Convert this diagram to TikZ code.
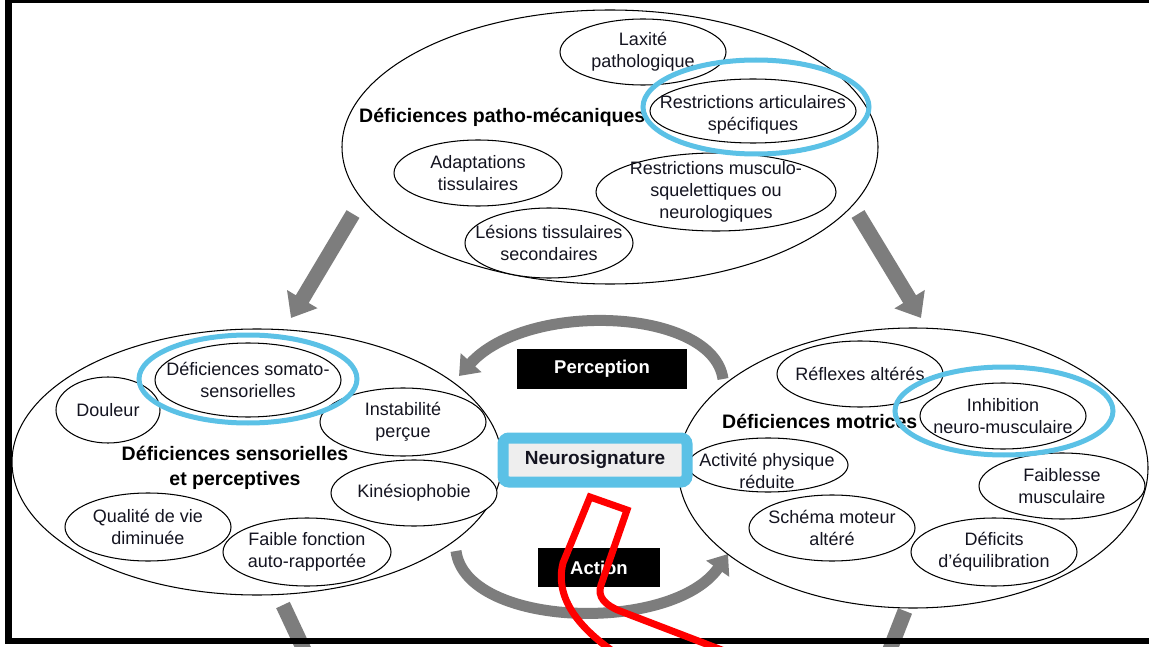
\documentclass[tikz,border=0pt]{standalone}
\usepackage{fontspec}
\setmainfont{Liberation Sans}
\usetikzlibrary{arrows.meta}
\definecolor{ringblue}{RGB}{91,193,230}
\definecolor{arrgray}{RGB}{125,125,125}
\definecolor{txtc}{RGB}{20,20,32}
\definecolor{neurofill}{RGB}{238,238,238}
\newcommand\mybub[6]{%
  \fill[white] (#2,#3) ellipse [x radius=#4pt, y radius=#5pt];
  \draw[bubline] (#2,#3) ellipse [x radius=#4pt, y radius=#5pt];
  \node[bubtext] (#1) at (#2,#3) {#6};
}
\newcommand\bigell[4]{%
  \fill[white] (#1,#2) ellipse [x radius=#3pt, y radius=#4pt];
  \draw[bubline] (#1,#2) ellipse [x radius=#3pt, y radius=#4pt];
}
\newcommand\myring[4]{%
  \draw[ringstyle] (#1,#2) ellipse [x radius=#3pt, y radius=#4pt];
}
\begin{document}
\begin{tikzpicture}[x=1pt,y=-1pt,
  bubline/.style={draw=black, line width=1.05pt},
  bubtext/.style={align=center, font=\fontsize{18}{22}\selectfont, text=txtc, inner sep=0pt},
  titletext/.style={align=center, font=\bfseries\fontsize{19.5}{25}\selectfont, text=black, inner sep=0pt},
  ringstyle/.style={draw=ringblue, line width=5pt},
  blackbox/.style={fill=black, text=white, font=\bfseries\fontsize{18.5}{22}\selectfont, inner sep=0pt},
  garrow/.style={draw=arrgray, line width=15pt, -{Triangle[width=34pt,length=22pt]}},
  gshaft/.style={draw=arrgray, line width=15pt},
  carrow/.style={draw=arrgray, line width=11pt, -{Triangle[width=27pt,length=18pt]}},
  redline/.style={draw=red, line width=7pt, line join=miter}
]
\useasboundingbox (0,0) rectangle (1149,647);
\clip (0,0) rectangle (1149,647);
\fill[white] (0,0) rectangle (1149,647);

% straight gray arrows
\coordinate (tlA) at (353,214);
\coordinate (tlB) at (291,318);
\coordinate (trA) at (858,214);
\coordinate (trB) at (921,318);
\coordinate (blA) at (283,605);
\coordinate (blB) at (305,652);
\coordinate (brA) at (905,611);
\coordinate (brB) at (889,652);
\draw[garrow] (tlA) -- (tlB);
\draw[garrow] (trA) -- (trB);
\draw[gshaft] (blA) -- (blB);
\draw[gshaft] (brA) -- (brB);

% curved arrows
\coordinate (pA) at (723,379);
\coordinate (pB) at (459,376);
\coordinate (aA) at (456,551);
\coordinate (aB) at (728,554);
\draw[carrow] (pA) .. controls (713,308) and (528,300) .. (pB);
\draw[carrow] (aA) .. controls (466,628) and (672,634) .. (aB);

% top group
\bigell{610}{147}{268}{137}
\node[titletext, anchor=west] (ttop) at (359,117) {Déficiences patho-mécaniques};
\mybub{lax}{643}{52}{83}{33}{Laxité\\pathologique}
\fill[white] (753,111) ellipse [x radius=103pt, y radius=32pt];
\draw[bubline] (753,111) ellipse [x radius=103pt, y radius=32pt];
\node[bubtext] (rart) at (753,115) {Restrictions articulaires\\spécifiques};
\mybub{adap}{478}{173}{84}{33}{Adaptations\\tissulaires}
\mybub{rmus}{716}{192}{120}{39}{Restrictions musculo-\\squelettiques ou\\neurologiques}
\mybub{les}{549}{243}{84}{35}{Lésions tissulaires\\secondaires}
\myring{756}{107}{113}{47}

% left group
\bigell{257}{462}{245}{133}
\node[titletext] (tleft) at (235,468) {Déficiences sensorielles\\et perceptives};
\mybub{doul}{108}{410}{52}{33}{Douleur}
\mybub{soma}{248}{380}{93}{37}{Déficiences somato-\\sensorielles}
\mybub{inst}{403}{422}{83}{34}{Instabilité\\perçue}
\mybub{kin}{414}{493}{83}{33}{Kinésiophobie}
\mybub{qual}{148}{527}{83}{34}{Qualité de vie\\diminuée}
\mybub{faibf}{307}{552}{84}{34}{Faible fonction\\auto-rapportée}
\myring{248}{379}{109}{44}

% right group
\bigell{913}{468}{235}{140}
\node[titletext, anchor=west] (tright) at (722,421) {Déficiences motrices};
\mybub{refl}{860}{374}{83}{33}{Réflexes altérés}
\mybub{inhib}{1003}{416}{83}{33}{Inhibition\\neuro-musculaire}
\fill[white] (768,465) ellipse [x radius=80pt, y radius=27pt];
\draw[bubline] (768,465) ellipse [x radius=80pt, y radius=27pt];
\node[bubtext] (act) at (767,471) {Activité physique\\réduite};
\mybub{faib}{1062}{486}{83}{33}{Faiblesse\\musculaire}
\mybub{sch}{832}{528}{83}{33}{Schéma moteur\\altéré}
\mybub{def}{994}{552}{83}{34}{Déficits\\d’équilibration}
\myring{1004}{411}{109}{44}

% centre
\node[draw=ringblue, line width=11pt, fill=neurofill, rounded corners=6pt,
      minimum width=184pt, minimum height=44pt, inner sep=0pt,
      font=\bfseries\fontsize{19}{22}\selectfont, text=txtc] (neuro) at (595,460) {Neurosignature};
\node[blackbox, minimum width=170pt, minimum height=40pt] (perc) at (602,369) {Perception};
\node[blackbox, minimum width=122pt, minimum height=39pt] (act2) at (599,567.5) {Action};

% frame
\fill[black] (5,0) rectangle (1149,3.5);
\fill[black] (5,0) rectangle (12,643.5);
\fill[black] (5,637.5) rectangle (1149,643.5);

% red mark
\coordinate (rS) at (614,652);
\coordinate (rE) at (727,652);
\draw[redline] (rS) .. controls (575,625) and (555,595) .. (563,563) -- (590,497) -- (627,510) -- (601,585) .. controls (597,597) and (605,605) .. (620,611) -- (rE);
\end{tikzpicture}
\end{document}
